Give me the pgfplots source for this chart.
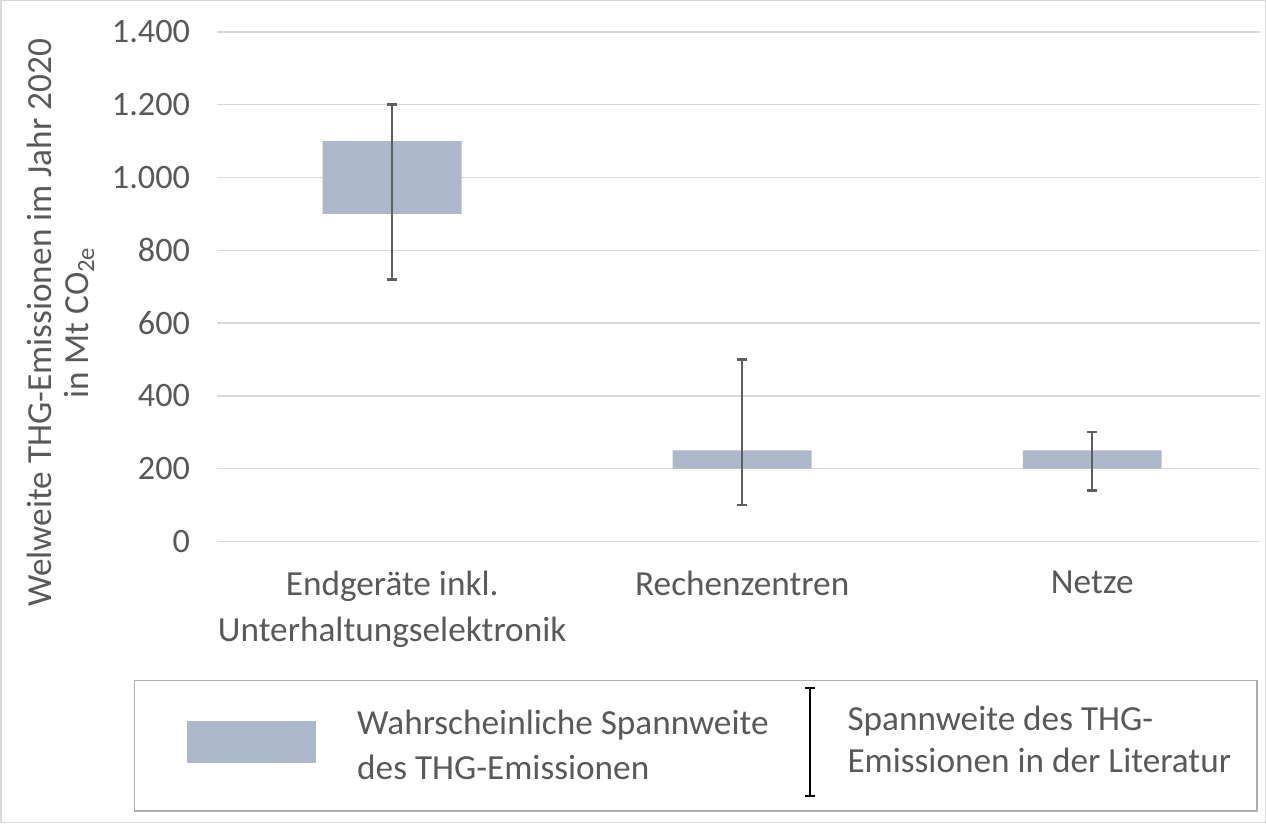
\documentclass[border=0pt]{standalone}
\usepackage{pgfplots}
\usepackage{pgfplotstable}
\pgfplotsset{compat=1.18}
\usepackage{fontspec}
\setmainfont{Carlito}
\definecolor{txt}{HTML}{595959}
\definecolor{barc}{HTML}{ADB9CA}
\definecolor{gridc}{HTML}{D9D9D9}
\definecolor{errc}{HTML}{5F5F5F}
\pgfplotstableread{
x lo hi ep em
0 900 200 100 380
1 200 50 250 150
2 200 50 50 110
}\data
\begin{document}
\fontsize{17.5}{22.5}\selectfont
\begin{tikzpicture}
\begin{axis}[
  scale only axis,
  width=518pt, height=253pt,
  xmin=-0.5, xmax=2.48,
  ymin=0, ymax=1400,
  ybar stacked, bar width=69pt,
  ytick={0,200,...,1400},
  xtick={0,1,2},
  xticklabels={{Endgeräte inkl.\\Unterhaltungselektronik},Rechenzentren,Netze},
  xticklabel style={align=center, text=txt, yshift=-8.5pt, font=\fontsize{17.5}{23}\selectfont},
  yticklabel style={text=txt, xshift=-7.5pt, font=\fontsize{17}{20}\selectfont},
  /pgf/number format/.cd, 1000 sep={.}, assume math mode=true,
  /pgfplots/.cd,
  axis line style={draw=none},
  major tick length=0pt,
  ymajorgrids,
  grid style={gridc, line width=0.75pt},
  ylabel={Welweite THG-Emissionen im Jahr 2020\\in Mt CO\textsubscript{2e}},
  ylabel style={at={(axis description cs:-0.150,0.4289)}, anchor=center, align=center, text=txt, font=\fontsize{17.5}{18.5}\selectfont},
]
\addplot[fill=none, draw=none] table[x=x, y=lo]{\data};
\addplot[fill=barc, draw=none,
  error bars/.cd, y dir=both, y explicit,
  error bar style={color=errc, line width=1.25pt},
  error mark options={color=errc, line width=1.25pt, mark size=2.5pt, rotate=90}]
  table[x=x, y=hi, y error plus=ep, y error minus=em]{\data};
\end{axis}
% outer frame
\draw[gridc, line width=0.75pt] (-107.5pt,268.5pt) rectangle (520.5pt,-139.5pt);
% legend
\draw[gridc!80!black, line width=0.75pt] (-41pt,-69pt) rectangle (516.5pt,-134pt);
\fill[barc] (-15pt,-89pt) rectangle (49pt,-110pt);
\node[anchor=west, align=left, text=txt, font=\fontsize{17.5}{22.5}\selectfont] at (63.5pt,-101pt) {Wahrscheinliche Spannweite\\des THG-Emissionen};
\draw[black, line width=1pt] (294.5pt,-73pt) -- (294.5pt,-126.5pt);
\draw[black, line width=1pt] (292pt,-73pt) -- (297pt,-73pt);
\draw[black, line width=1pt] (292pt,-126.5pt) -- (297pt,-126.5pt);
\node[anchor=west, align=left, text=txt, font=\fontsize{17.5}{21}\selectfont] at (307pt,-98.5pt) {Spannweite des THG-\\Emissionen in der Literatur};
\end{tikzpicture}
\end{document}
